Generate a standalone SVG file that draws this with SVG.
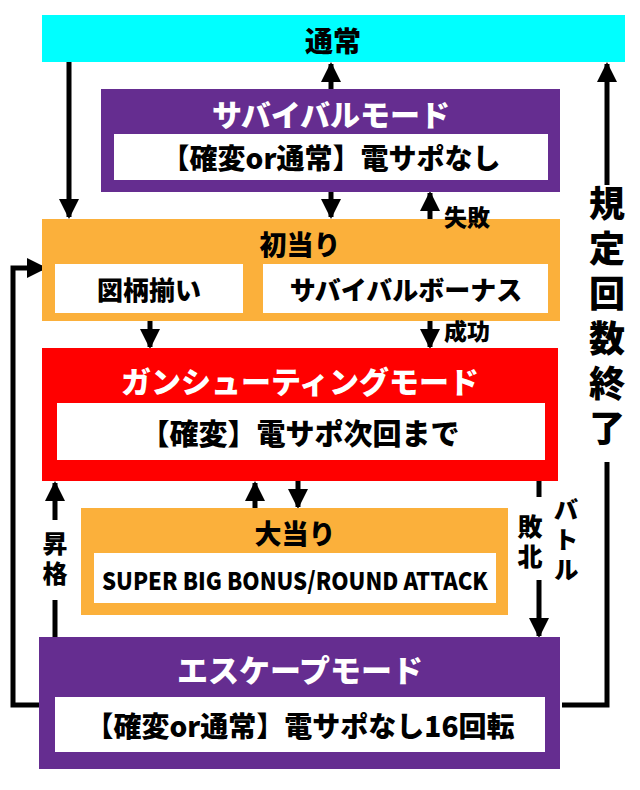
<svg xmlns="http://www.w3.org/2000/svg" width="640" height="790" viewBox="0 0 640 790">
<style>
text{font-family:"Noto Sans CJK JP","Noto Sans",sans-serif;font-weight:900;text-anchor:middle;dominant-baseline:central}
.w{fill:#fff}.k{fill:#000}
.v{writing-mode:vertical-rl;text-orientation:upright}
.ln{stroke:#000;stroke-width:5;fill:none}
</style>
<defs><marker id="ah" viewBox="0 0 10 10" refX="9" refY="5" markerWidth="4" markerHeight="4" orient="auto" markerUnits="strokeWidth"><path d="M0,0L10,5L0,10z" fill="#000"/></marker></defs>
<rect width="640" height="790" fill="#fff"/>
<g id="connectors">
<path class="ln" d="M69,62V217" marker-end="url(#ah)"/>
<path class="ln" d="M331,89V64" marker-end="url(#ah)"/>
<path class="ln" d="M331,192V217" marker-end="url(#ah)"/>
<path class="ln" d="M430,264V193" marker-end="url(#ah)"/>
<path class="ln" d="M430,321V347" marker-end="url(#ah)"/>
<path class="ln" d="M150,313V347" marker-end="url(#ah)"/>
<path class="ln" d="M255,508V483" marker-end="url(#ah)"/>
<path class="ln" d="M298,481V507" marker-end="url(#ah)"/>
<path class="ln" d="M55,520V483" marker-end="url(#ah)"/><path class="ln" d="M55,600V638"/>
<path class="ln" d="M539,481V497"/><path class="ln" d="M539,580V636" marker-end="url(#ah)"/>
<path class="ln" d="M39,705H13V268H45" marker-end="url(#ah)"/>
<path class="ln" d="M562,705H607V462"/><path class="ln" d="M607,185V64" marker-end="url(#ah)"/>
</g>
<g id="normal"><rect x="42" y="15" width="583" height="47" fill="#00FFFF"/><text x="333" y="40" font-size="28" class="k">通常</text></g>
<g id="survival"><rect x="101" y="89" width="459" height="103" fill="#652D90"/><text x="331" y="113" font-size="30" class="w">サバイバルモード</text><rect x="114" y="134" width="434" height="46" fill="#fff"/><text x="331" y="157" font-size="28" class="k">【確変or通常】電サポなし</text></g>
<g id="first"><rect x="42" y="219" width="518" height="102" fill="#FBB03B"/><text x="300" y="243" font-size="27" class="k">初当り</text>
<rect x="55" y="264" width="188" height="49" fill="#fff"/><text x="149" y="288" font-size="26" class="k">図柄揃い</text>
<rect x="263" y="264" width="285" height="49" fill="#fff"/><text x="406" y="288" font-size="26" class="k">サバイバルボーナス</text></g>
<g id="gun"><rect x="42" y="348" width="516" height="133" fill="#FF0000"/><text x="300" y="380" font-size="30" class="w">ガンシューティングモード</text><rect x="57" y="403" width="488" height="57" fill="#fff"/><text x="300" y="432" font-size="29" class="k">【確変】電サポ次回まで</text></g>
<g id="big"><rect x="81" y="508" width="427" height="107" fill="#FBB03B"/><text x="295" y="532" font-size="27" class="k">大当り</text><rect x="94" y="553" width="402" height="50" fill="#fff"/><text x="295" y="579" font-size="24" font-family="Roboto,'Liberation Sans',sans-serif" textLength="386" lengthAdjust="spacingAndGlyphs" class="k">SUPER BIG BONUS/ROUND ATTACK</text></g>
<g id="escape"><rect x="39" y="637" width="521" height="132" fill="#652D90"/><text x="300" y="668" font-size="31" class="w">エスケープモード</text><rect x="55" y="697" width="490" height="55" fill="#fff"/><text x="300" y="725" font-size="28" class="k">【確変or通常】電サポなし16回転</text></g>
<g id="labels">
<text x="467" y="216" font-size="23" class="k">失敗</text>
<text x="467" y="330" font-size="23" class="k">成功</text>
<text x="55" y="561" font-size="25" letter-spacing="5" class="k v">昇格</text>
<text x="530" y="544" font-size="25" letter-spacing="5" class="k v">敗北</text>
<text x="566" y="542" font-size="25" letter-spacing="5" class="k v">バトル</text>
<text x="607" y="320" font-size="36" letter-spacing="9" class="k v">規定回数終了</text>
</g>
</svg>
